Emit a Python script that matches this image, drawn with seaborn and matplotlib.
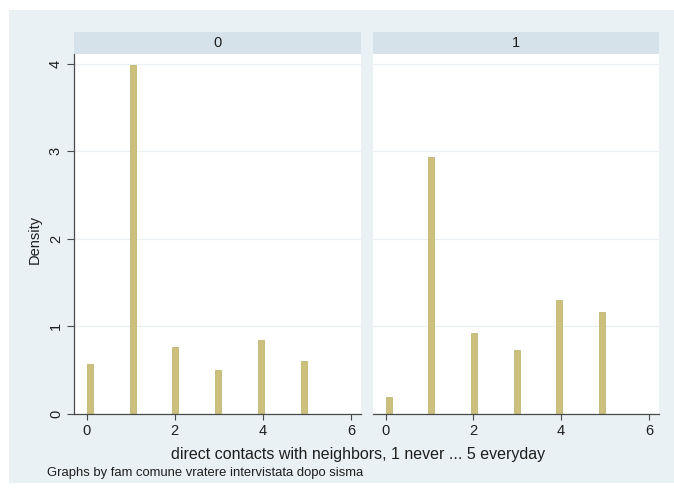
import numpy as np
import pandas as pd
import seaborn as sns
import matplotlib.pyplot as plt
from matplotlib.patches import Rectangle

# Survey answers (0..5) and the density of each answer, by group
values = [0, 1, 2, 3, 4, 5]
density_group0 = [0.57, 3.98, 0.76, 0.50, 0.84, 0.60]
density_group1 = [0.19, 2.93, 0.92, 0.73, 1.30, 1.17]
groups = ["0", "1"]
x_ticks = [0, 2, 4, 6]
y_ticks = [0, 1, 2, 3, 4]
x_title = "direct contacts with neighbors, 1 never ... 5 everyday"
y_title = "Density"
note = "Graphs by fam comune vratere intervistata dopo sisma"

df = pd.DataFrame({
    "group": [groups[0]] * len(values) + [groups[1]] * len(values),
    "value": values + values,
    "density": density_group0 + density_group1,
})

sns.set_theme(style="white")
plt.rcParams["font.family"] = ["Liberation Sans", "DejaVu Sans"]

W, H = 674, 492
BG = "#e9f1f4"
STRIP = "#d6e2e9"
BAR = "#cbc17c"
BAR_EDGE = "#b9ae66"
INK = "#1e1e1e"
AXIS = "#4a4a4a"


def rect(x0, y0, x1, y1):
    return [x0 / W, 1 - y1 / H, (x1 - x0) / W, (y1 - y0) / H]


fig = plt.figure(figsize=(W / 100, H / 100), dpi=100)
fig.patch.set_facecolor("white")
fig.add_artist(Rectangle((9 / W, 1 - 483 / H), 1 - 9 / W, (483 - 10) / H,
                         transform=fig.transFigure, facecolor=BG,
                         edgecolor="none", zorder=-10))

panels = [(74, 361), (373, 659)]
for i, (g, (x0, x1)) in enumerate(zip(groups, panels)):
    # group header strip
    hax = fig.add_axes(rect(x0, 32, x1, 54))
    hax.set_facecolor(STRIP)
    hax.set_xticks([])
    hax.set_yticks([])
    for s in hax.spines.values():
        s.set_visible(False)
    hax.text(0.5, 0.5, g, ha="center", va="center", fontsize=10.5, color=INK,
             transform=hax.transAxes)

    ax = fig.add_axes(rect(x0, 54, x1, 414))
    ax.set_facecolor("white")
    sub = df[df["group"] == g]
    # 36 narrow bins over 0..5; each answer falls in its own bin, and the
    # bin height is the density weight itself
    sns.histplot(data=sub, x="value", weights="density", bins=36,
                 binrange=(0, 5), stat="count", color=BAR,
                 edgecolor=BAR_EDGE, linewidth=0.5, alpha=1, ax=ax)
    ax.set_xlim(-0.29, 6.23)
    ax.set_ylim(0, 4.11)
    ax.set_xticks(x_ticks)
    ax.set_xticklabels([str(t) for t in x_ticks])
    ax.set_yticks(y_ticks)
    ax.yaxis.grid(True, color="#eaf0f3", linewidth=0.9)
    ax.set_axisbelow(True)
    ax.set_xlabel("")
    ax.set_ylabel("")
    for s in ["top", "right"]:
        ax.spines[s].set_visible(False)
    ax.spines["bottom"].set_color(AXIS)
    ax.spines["bottom"].set_linewidth(0.9)
    ax.tick_params(axis="x", direction="out", length=4, width=0.8,
                   color=AXIS, labelsize=10.5, labelcolor=INK, pad=3,
                   bottom=True)
    if i == 0:
        ax.spines["left"].set_color(AXIS)
        ax.spines["left"].set_linewidth(0.9)
        ax.tick_params(axis="y", direction="out", length=5, width=0.8,
                       color=AXIS, labelsize=10.5, labelcolor=INK, pad=3,
                       left=True)
        ax.set_yticklabels([str(t) for t in y_ticks], rotation=90,
                           va="center")
    else:
        ax.spines["left"].set_visible(False)
        ax.tick_params(axis="y", left=False, labelleft=False)

fig.text(358 / W, 1 - 455 / H, x_title, ha="center", va="center",
         fontsize=11.5, color=INK)
fig.text(35 / W, 1 - 239 / H, y_title, ha="center", va="center",
         rotation=90, fontsize=10.5, color=INK)
fig.text(47 / W, 1 - 473 / H, note, ha="left", va="center",
         fontsize=9.4, color=INK)

fig.savefig("out.png", dpi=100, facecolor="white")
